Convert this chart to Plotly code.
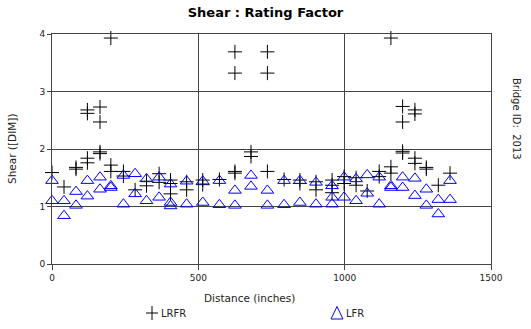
import plotly.graph_objects as go

# Stations along the span (inches)
stations = [0, 41, 82, 121, 164, 201, 244, 284, 323, 366, 405, 460, 515, 572, 625, 680,
            736, 793, 847, 902, 957, 998, 1039, 1077, 1118, 1158, 1198, 1240, 1279, 1320, 1360]

# LRFR shear rating factors at each station
lrfr_values = [
    [1.59], [1.34], [1.68, 1.65], [2.68, 2.62, 1.84, 1.76], [2.73, 2.47, 1.95, 1.92],
    [3.93, 1.72, 1.61], [1.61, 1.53], [1.29], [1.44, 1.36], [1.57, 1.42],
    [1.46, 1.40, 1.22], [1.43, 1.29], [1.46, 1.38], [1.47], [3.69, 3.32, 1.61, 1.58],
    [1.95, 1.87], [3.69, 3.32, 1.61], [1.47], [1.46, 1.40], [1.43, 1.29],
    [1.46, 1.37, 1.24], [1.52, 1.40], [1.50, 1.37], [1.27], [1.61, 1.52],
    [3.93, 1.69, 1.58], [2.74, 2.47, 1.96, 1.93], [2.68, 2.61, 1.84, 1.75], [1.68, 1.65],
    [1.37], [1.58],
]

# LFR shear rating factors at each station
lfr_values = [
    [1.45, 1.10], [1.10, 0.84], [1.26, 1.02], [1.45, 1.18], [1.51, 1.30],
    [1.33, 1.36], [1.54, 1.04], [1.57, 1.22], [1.48, 1.10], [1.51, 1.16],
    [1.39, 1.07, 1.01], [1.44, 1.04], [1.44, 1.07], [1.45, 1.03], [1.28, 1.02],
    [1.54, 1.35], [1.28, 1.02], [1.45, 1.03], [1.45, 1.07], [1.42, 1.04],
    [1.36, 1.16, 1.04], [1.51, 1.16], [1.48, 1.10], [1.55, 1.23], [1.51, 1.04],
    [1.33, 1.36], [1.51, 1.33], [1.49, 1.19], [1.30, 1.02], [1.12, 0.87],
    [1.45, 1.12],
]

x_ticks = [0, 500, 1000, 1500]
y_ticks = [0, 1, 2, 3, 4]
series_names = ["LRFR", "LFR"]


def flatten(st, vals):
    xs, ys = [], []
    for s, v in zip(st, vals):
        for y in v:
            xs.append(s)
            ys.append(y)
    return xs, ys


lrfr_x, lrfr_y = flatten(stations, lrfr_values)
lfr_x, lfr_y = flatten(stations, lfr_values)

FONT = "DejaVu Sans, Verdana, sans-serif"
GRID = "#444444"
TXT = "#222222"
BLUE = "#0000ff"

W, H = 531, 329
ML, MR, MT, MB = 52, 40, 34, 65
PW, PH = W - ML - MR, H - MT - MB


def px2x(px):
    return (px - ML) / PW


def px2y(py):
    return (H - MB - py) / PH


fig = go.Figure()
fig.add_trace(go.Scatter(
    x=lrfr_x, y=lrfr_y, mode="markers", name=series_names[0],
    marker=dict(symbol="cross-thin-open", size=10, color="black",
                line=dict(color="black", width=1)),
    cliponaxis=False, showlegend=False,
))
fig.add_trace(go.Scatter(
    x=lfr_x, y=lfr_y, mode="markers", name=series_names[1],
    marker=dict(symbol="triangle-up-open", size=11, color=BLUE,
                line=dict(color=BLUE, width=1)),
    cliponaxis=False, showlegend=False,
))

fig.update_layout(
    width=W, height=H,
    margin=dict(l=ML, r=MR, t=MT, b=MB, pad=0, autoexpand=False),
    paper_bgcolor="white", plot_bgcolor="white",
    font=dict(family=FONT, size=10, color=TXT),
    title=dict(text="<b>Shear : Rating Factor</b>", x=0.5, xanchor="center",
               y=1 - 12 / H, yanchor="middle",
               font=dict(family=FONT, size=13, color="black")),
    showlegend=False,
)

fig.update_xaxes(
    range=[0, 1500], tickvals=x_ticks, ticktext=[str(v) for v in x_ticks],
    showgrid=True, gridcolor=GRID, gridwidth=1,
    showline=True, linecolor=GRID, linewidth=1, mirror=True,
    ticks="outside", ticklen=5, tickcolor=GRID,
    tickfont=dict(family=FONT, size=9, color=TXT),
    zeroline=False,
)
fig.update_yaxes(
    range=[0, 4], tickvals=y_ticks, ticktext=[str(v) for v in y_ticks],
    showgrid=True, gridcolor=GRID, gridwidth=1,
    showline=True, linecolor=GRID, linewidth=1, mirror=True,
    ticks="outside", ticklen=4, tickcolor=GRID,
    tickfont=dict(family=FONT, size=9, color=TXT),
    zeroline=False,
)

fig.add_annotation(text="Distance (inches)", xref="paper", yref="paper",
                   x=px2x(249), y=px2y(298), xanchor="center", yanchor="middle",
                   showarrow=False, font=dict(family=FONT, size=10.5, color=TXT))
fig.add_annotation(text="Shear ([DIM])", xref="paper", yref="paper",
                   x=px2x(12), y=0.5, xanchor="center", yanchor="middle",
                   textangle=-90, showarrow=False,
                   font=dict(family=FONT, size=10.5, color=TXT))
fig.add_annotation(text="Bridge ID:  2013", xref="paper", yref="paper",
                   x=px2x(517), y=px2y(119), xanchor="center", yanchor="middle",
                   textangle=90, showarrow=False,
                   font=dict(family=FONT, size=10, color=TXT))

# Manual legend (key glyphs + labels) below the plot
cx, cy = 152, 313
fig.add_shape(type="line", xref="paper", yref="paper",
              x0=px2x(cx - 6), x1=px2x(cx + 6), y0=px2y(cy), y1=px2y(cy),
              line=dict(color="black", width=1))
fig.add_shape(type="line", xref="paper", yref="paper",
              x0=px2x(cx), x1=px2x(cx), y0=px2y(cy - 7), y1=px2y(cy + 7),
              line=dict(color="black", width=1))
fig.add_annotation(text=series_names[0], xref="paper", yref="paper",
                   x=px2x(159), y=px2y(313), xanchor="left", yanchor="middle",
                   showarrow=False, font=dict(family=FONT, size=10, color=TXT))
tx, ty = 337, 313
fig.add_shape(type="path", xref="paper", yref="paper",
              path=(f"M {px2x(tx - 6)} {px2y(ty + 6)} L {px2x(tx + 6)} {px2y(ty + 6)} "
                    f"L {px2x(tx)} {px2y(ty - 6.5)} Z"),
              line=dict(color=BLUE, width=1))
fig.add_annotation(text=series_names[1], xref="paper", yref="paper",
                   x=px2x(344), y=px2y(313), xanchor="left", yanchor="middle",
                   showarrow=False, font=dict(family=FONT, size=10, color=TXT))

fig.write_html("out.html", config={"displayModeBar": False, "staticPlot": True},
               post_script="document.body.style.margin='0px';")
